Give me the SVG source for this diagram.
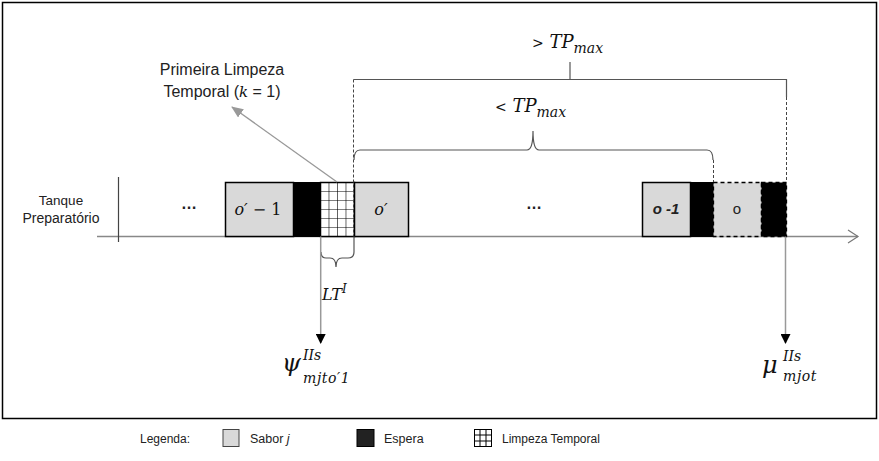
<svg xmlns="http://www.w3.org/2000/svg" width="879" height="461" viewBox="0 0 879 461">
<defs>
<style>
.t{font-family:"Liberation Sans",Arial,sans-serif;fill:#222}
.m{font-family:"DejaVu Serif","Liberation Serif",serif;font-style:italic;fill:#111}
.g{fill:#d9d9d9;stroke:#000;stroke-width:1.5}
.b{fill:#000;stroke:#000;stroke-width:1}
.br{fill:none;stroke:#555;stroke-width:1.2}
.ds{fill:none;stroke:#444;stroke-width:1;stroke-dasharray:3 2}
</style>
<pattern id="grid" x="320" y="182" width="8.5" height="9" patternUnits="userSpaceOnUse">
<rect width="8.5" height="9" fill="#fff"/>
<path d="M0 0H8.5M0 0V9" stroke="#000" stroke-width="1.2"/>
</pattern>
<marker id="tri" markerWidth="10" markerHeight="10" refX="9" refY="5" orient="auto" markerUnits="userSpaceOnUse">
<path d="M0 0L10 5L0 10Z" fill="#000"/>
</marker>
<marker id="gtri" markerWidth="12" markerHeight="10" refX="11" refY="5" orient="auto" markerUnits="userSpaceOnUse">
<path d="M0 0L12 5L0 10Z" fill="#999"/>
</marker>
</defs>
<rect x="2.5" y="2.5" width="874" height="416" fill="#fff" stroke="#000" stroke-width="1.5"/>

<g id="axis">
<line x1="97" y1="236.5" x2="858" y2="236.5" stroke="#888" stroke-width="1.3"/>
<path d="M848 230L858 236.5L848 243" fill="none" stroke="#777" stroke-width="1.2"/>
<line x1="118.5" y1="177" x2="118.5" y2="242" stroke="#444" stroke-width="1.2"/>
<text class="t" x="61" y="205" font-size="13.5" text-anchor="middle">Tanque</text>
<text class="t" x="61" y="223" font-size="14" text-anchor="middle">Preparatório</text>
<text class="t" x="189" y="209" font-size="16" text-anchor="middle" font-weight="bold">…</text>
<text class="t" x="534" y="209" font-size="16" text-anchor="middle" font-weight="bold">…</text>
</g>

<g id="block-left">
<rect class="g" x="225.5" y="182.5" width="68" height="54"/>
<rect class="b" x="293.5" y="182.5" width="27" height="54"/>
<rect x="320.5" y="182.5" width="34" height="54" fill="url(#grid)" stroke="#000" stroke-width="1.5"/>
<rect class="g" x="354.5" y="182.5" width="54" height="54"/>
<text class="m" x="258" y="215" font-size="16" text-anchor="middle">o′ <tspan font-style="normal">− 1</tspan></text>
<text class="m" x="381" y="215" font-size="16" text-anchor="middle">o′</text>
</g>

<g id="block-right">
<rect class="g" x="642.5" y="182.5" width="48" height="54"/>
<rect class="b" x="690.5" y="182.5" width="23" height="54"/>
<rect x="713.5" y="182.5" width="48" height="54" fill="#d9d9d9" stroke="#000" stroke-width="1.3" stroke-dasharray="4 3"/>
<rect x="761.5" y="182.5" width="25" height="54" fill="#000" stroke="#000" stroke-width="1.3" stroke-dasharray="4 3"/>
<text class="t" x="666" y="214" font-size="15" font-style="italic" font-weight="bold" text-anchor="middle">o -1</text>
<text class="t" x="737" y="214" font-size="15" text-anchor="middle">o</text>
</g>

<g id="connectors">
<path class="br" d="M353.5 79.5H786.5V97"/>
<line class="br" x1="570" y1="62" x2="570" y2="79.5"/>
<line class="ds" x1="353.5" y1="79.5" x2="353.5" y2="236"/>
<line class="ds" x1="786.5" y1="97" x2="786.5" y2="182"/>
<path class="br" d="M354 160Q354 150 360 150H527Q533 150 533 131Q533 150 539 150H707Q713 150 713 160"/>
<line class="ds" x1="713.5" y1="160" x2="713.5" y2="182"/>
<path class="br" d="M354 236.5V252Q354 258 348 258H342Q336 258 336 267Q336 258 330 258H326Q321 258 321 252"/>
<line x1="320.7" y1="236.5" x2="320.7" y2="343" stroke="#999" stroke-width="1.5" marker-end="url(#tri)"/>
<line x1="785.5" y1="236.5" x2="785.5" y2="343" stroke="#999" stroke-width="1.5" marker-end="url(#tri)"/>
<line x1="337" y1="182" x2="232" y2="107" stroke="#999" stroke-width="1.3" marker-end="url(#gtri)"/>
</g>

<g id="labels">
<text class="t" x="222" y="75" font-size="16" text-anchor="middle">Primeira Limpeza</text>
<text class="t" x="222" y="97" font-size="16" text-anchor="middle">Temporal (<tspan class="m" font-size="15">k</tspan> = 1)</text>
<text class="m" x="532" y="48" font-size="18"><tspan font-style="normal" font-size="14">&gt;</tspan> TP<tspan font-size="14" dy="5">max</tspan></text>
<text class="m" x="495" y="112" font-size="18"><tspan font-style="normal" font-size="14">&lt;</tspan> TP<tspan font-size="14" dy="5">max</tspan></text>
<text class="m" x="322" y="300" font-size="16">LT<tspan font-size="12" dy="-7">I</tspan></text>
<text class="m" x="282" y="371" font-size="24" font-style="normal">ψ</text>
<text class="m" x="303" y="360" font-size="14">IIs</text>
<text class="m" x="303" y="383" font-size="14" letter-spacing="0.6">mjto′1</text>
<text class="m" x="762" y="373" font-size="24" font-style="normal">μ</text>
<text class="m" x="783" y="361" font-size="14">IIs</text>
<text class="m" x="783" y="381" font-size="14" letter-spacing="0.6">mjot</text>
</g>

<g id="legend">
<text class="t" x="140" y="443" font-size="12">Legenda:</text>
<rect x="223" y="429.5" width="16" height="17" fill="#d9d9d9" stroke="#444" stroke-width="1"/>
<text class="t" x="250" y="443" font-size="12.5">Sabor <tspan font-style="italic">j</tspan></text>
<rect x="357" y="429.5" width="17" height="17" fill="#222" stroke="#000" stroke-width="1"/>
<text class="t" x="384" y="443" font-size="12.5">Espera</text>
<rect x="474.5" y="429.5" width="17" height="17" fill="#fff" stroke="#000" stroke-width="1"/>
<path d="M480 429.5V446.5M486 429.5V446.5M474.5 435H491.5M474.5 441H491.5" stroke="#000" stroke-width="1"/>
<text class="t" x="502" y="443" font-size="12">Limpeza Temporal</text>
</g>
</svg>
